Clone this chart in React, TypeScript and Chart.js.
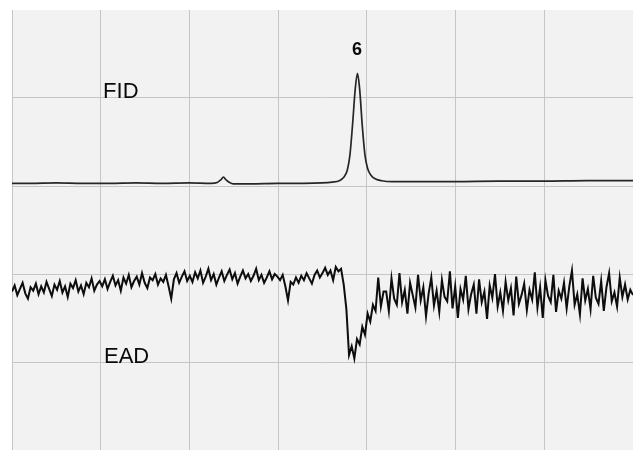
import { useEffect, useRef } from 'react';
import { Chart, registerables } from 'chart.js';

Chart.register(...registerables);

// FID trace (retention units 0..700, signal units 0..500)
const fidX = [0, 20, 50, 80, 110, 140, 170, 200, 225, 232, 236, 239, 242, 246, 250, 270, 300, 330, 350, 362, 370, 375, 379, 382, 385, 388, 390.5, 393, 396, 399, 402, 406, 411, 418, 430, 450, 500, 550, 600, 650, 702];
const fidY = [303, 303, 303.5, 303, 303, 303.5, 303, 303.5, 303, 304, 307, 310, 307, 304, 302.5, 302.5, 303, 303, 303.5, 304.5, 306, 310, 318, 335, 370, 410, 428, 410, 368, 335, 320, 312, 308, 306, 305, 305, 305, 305.5, 305.5, 306, 306];

// EAD trace sampled every 3 retention units starting at 0
const eadStep = 3;
const eadY = [
  180, 187, 176, 183, 190, 178, 172, 185, 181, 189, 177, 186, 179, 191, 183, 175, 188, 182, 192, 179, 186, 174, 189, 184, 193, 180, 187, 177, 190, 185, 195, 181, 188, 192,
  186, 194, 183, 191, 198, 187, 193, 181, 196, 189, 199, 185, 192, 197, 188, 201, 190, 184, 196, 193, 200, 188, 195, 191, 199, 186, 172, 194, 201, 190, 197, 203, 192,
  198, 191, 202, 195, 204, 190, 197, 206, 193, 200, 188, 196, 203, 192, 199, 205, 194, 201, 189, 197, 204, 195, 200, 192, 198, 206, 193, 199, 190, 196, 203, 194, 200, 197,
  193, 199, 186, 170, 191, 188, 196, 190, 198, 193, 201, 195, 189, 199, 204, 196, 201, 207, 199, 204, 193, 208, 203, 206, 188, 160,
  108, 118, 104, 126, 120, 140, 131, 155, 146, 165, 158, 196, 163, 180,
  180, 158, 195, 172, 165, 201, 168, 182, 155, 190, 176, 162, 199, 170, 185, 152, 178, 196, 164, 181, 157, 193, 174, 169, 203, 161, 186, 150, 183, 171,
  198, 160, 177, 188, 155, 194, 168, 180, 149, 187, 173, 200, 163, 179, 158, 191, 170, 184, 153, 197, 166, 176, 189, 159, 182, 171, 202, 162, 185, 150,
  193, 175, 168, 199, 157, 181, 172, 190, 161, 186, 204, 165, 177, 154, 195, 170, 183, 160, 198, 173, 166, 192, 158, 185, 201, 169, 179, 163, 196, 174,
  188, 171, 182, 176,
];

// Text annotations
const labelTexts = ['FID', 'EAD', '6'];
const labelX = [103, 104, 390];
const labelY = [400, 99, 449];
const labelBold = [false, false, true];

const xMin = 0;
const xMax = 702;
const yMin = 0;
const yMax = 500;
const gridStep = 100;

export default function App() {
  const ref = useRef<HTMLCanvasElement | null>(null);

  useEffect(() => {
    document.body.style.margin = '0';
    document.body.style.background = '#ffffff';
    const canvas = ref.current;
    if (!canvas) return;

    const fidData = fidX.map((x, i) => ({ x, y: fidY[i] }));
    const eadData = eadY.map((y, i) => ({ x: i * eadStep, y }));

    const bgPlugin = {
      id: 'bg',
      beforeDraw(chart: any) {
        const { ctx, chartArea } = chart;
        ctx.save();
        ctx.fillStyle = '#f2f2f2';
        ctx.fillRect(chartArea.left, chartArea.top, chartArea.right - chartArea.left, chartArea.bottom - chartArea.top);
        ctx.restore();
      },
    };

    const textPlugin = {
      id: 'texts',
      afterDatasetsDraw(chart: any) {
        const { ctx, scales } = chart;
        ctx.save();
        ctx.fillStyle = '#0a0a0a';
        ctx.textBaseline = 'alphabetic';
        labelTexts.forEach((t, i) => {
          const px = scales.x.getPixelForValue(labelX[i]);
          const py = scales.y.getPixelForValue(labelY[i]);
          if (labelBold[i]) {
            ctx.font = 'bold 18px "Liberation Sans", Arial, sans-serif';
            ctx.textAlign = 'center';
          } else {
            ctx.font = '22px "Liberation Sans", Arial, sans-serif';
            ctx.textAlign = 'left';
          }
          ctx.fillText(t, px, py);
        });
        ctx.restore();
      },
    };

    const gridColor = (c: any) => (c.tick && (c.tick.value === yMax) ? 'rgba(0,0,0,0)' : '#c6c6c6');

    const chart = new Chart(canvas, {
      type: 'line',
      data: {
        datasets: [
          {
            label: 'FID',
            data: fidData,
            borderColor: '#262626',
            borderWidth: 1.7,
            pointRadius: 0,
            cubicInterpolationMode: 'monotone',
            fill: false,
          },
          {
            label: 'EAD',
            data: eadData,
            borderColor: '#0d0d0d',
            borderWidth: 2,
            pointRadius: 0,
            tension: 0,
            fill: false,
          },
        ],
      },
      options: {
        animation: false,
        responsive: false,
        maintainAspectRatio: false,
        layout: { padding: { left: 12, top: 10, right: 0, bottom: 0 } },
        plugins: {
          legend: { display: false },
          tooltip: { enabled: false },
          title: { display: false },
        },
        scales: {
          x: {
            type: 'linear',
            min: xMin,
            max: xMax,
            ticks: { display: false, stepSize: gridStep, includeBounds: false },
            grid: { color: '#c6c6c6', lineWidth: 1, drawTicks: false },
            border: { display: false },
          },
          y: {
            type: 'linear',
            min: yMin,
            max: yMax,
            ticks: { display: false, stepSize: gridStep },
            grid: { color: gridColor, lineWidth: 1, drawTicks: false },
            border: { display: false },
          },
        },
      },
      plugins: [bgPlugin, textPlugin],
    });

    return () => chart.destroy();
  }, []);

  return (
    <div style={{ width: 633, height: 450, overflow: 'hidden' }}>
      <canvas ref={ref} width={633} height={450} style={{ display: 'block' }} />
    </div>
  );
}
